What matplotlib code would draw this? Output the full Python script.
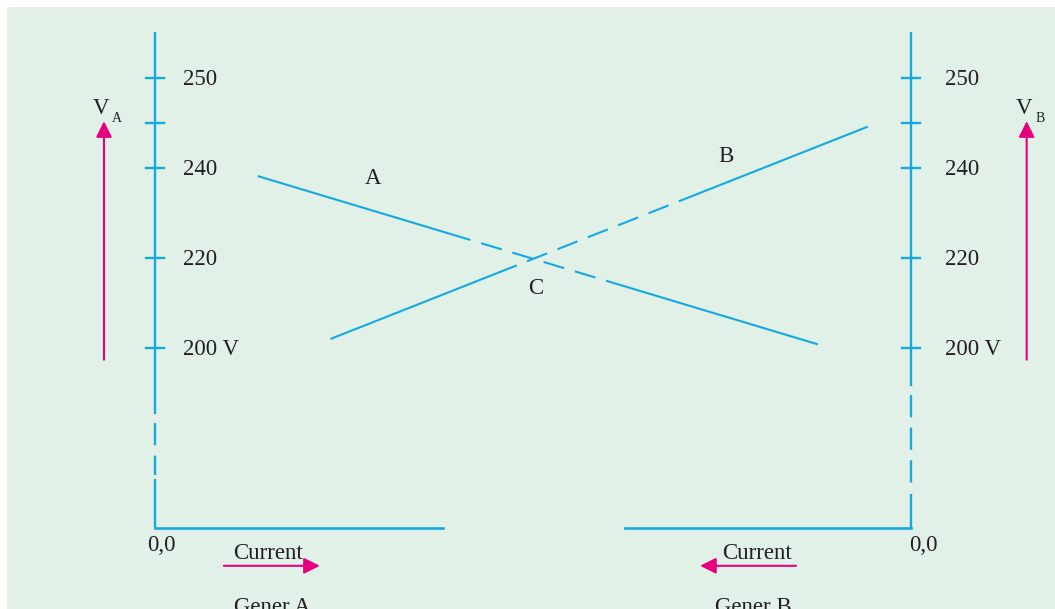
import matplotlib
matplotlib.use('Agg')
import matplotlib.pyplot as plt
from matplotlib.patches import Rectangle, FancyArrowPatch
import numpy as np

plt.rcParams['font.family'] = ['Liberation Serif', 'DejaVu Serif']
plt.rcParams['lines.scale_dashes'] = False

CYAN = '#14a9e0'
MAGENTA = '#e6007e'
BG = '#e1f1e7'
INK = '#231f20'
FS = 16.5

# voltage levels (schematic scale: one unit per tick step)
tick_pos = [0, 1, 2, 2.5, 3]
tick_labels = ['200 V', '220', '240', '', '250']

# generator characteristics (current units, voltage-level units)
gen_a_x = [1.36, 8.77]
gen_a_y = [1.91, 0.04]
gen_a_dash = [3.90, 6.05]

gen_b_x = [2.32, 9.43]
gen_b_y = [0.10, 2.46]
gen_b_dash = [4.52, 7.01]

left_axis_x = 0.0
right_axis_x = 10.0
axis_top = 3.51
axis_bottom = -2.0
left_base = [0.0, 3.81]
right_base = [6.22, 10.0]

fig = plt.figure(figsize=(10.55, 6.09), dpi=100)
fig.patch.set_facecolor('white')
fig.patches.append(Rectangle((7 / 1055, 0), 1, 1 - 7 / 609, transform=fig.transFigure,
                             facecolor=BG, edgecolor='none', zorder=-5))

ax = fig.add_axes([0, 0, 1, 1])
ax.set_xlim(-155 / 75.6, 900 / 75.6)
ax.set_ylim(-2.9, 348 / 90)
ax.axis('off')
ax.patch.set_alpha(0)


def char_line(xs, ys, dash_range):
    xa, xb = dash_range
    ya, yb = np.interp([xa, xb], xs, ys)
    ax.plot([xs[0], xa], [ys[0], ya], color=CYAN, lw=1.5, solid_capstyle='butt')
    ax.plot([xa, xb], [ya, yb], color=CYAN, lw=1.5, dashes=(15.5, 8), dash_capstyle='butt')
    ax.plot([xb, xs[1]], [yb, ys[1]], color=CYAN, lw=1.5, solid_capstyle='butt')


char_line(gen_a_x, gen_a_y, gen_a_dash)
char_line(gen_b_x, gen_b_y, gen_b_dash)

# vertical axes with a broken (dashed) lower part
axis_breaks = {left_axis_x: (-0.73, -1.46), right_axis_x: (-0.42, -1.62)}
for xv, (b1, b2) in axis_breaks.items():
    ax.plot([xv, xv], [axis_top, b1], color=CYAN, lw=1.7, solid_capstyle='butt')
    ax.plot([xv, xv], [b1 - 0.1, b2 + 0.05], color=CYAN, lw=1.7,
            dashes=(16, 7.5), dash_capstyle='butt')
    ax.plot([xv, xv], [b2, axis_bottom], color=CYAN, lw=1.7, solid_capstyle='butt')
    for tp in tick_pos:
        ax.plot([xv - 0.12, xv + 0.12], [tp, tp], color=CYAN, lw=1.7)

ax.plot(left_base, [axis_bottom, axis_bottom], color=CYAN, lw=1.9)
ax.plot(right_base, [axis_bottom, axis_bottom], color=CYAN, lw=1.9)

for tp, lab in zip(tick_pos, tick_labels):
    ax.text(left_axis_x + 0.37, tp - 0.02, lab, fontsize=FS, ha='left', va='center', color=INK)
    ax.text(right_axis_x + 0.45, tp - 0.02, lab, fontsize=FS, ha='left', va='center', color=INK)

ax.text(2.88, 1.88, 'A', fontsize=FS, ha='center', va='center', color=INK)
ax.text(7.55, 2.13, 'B', fontsize=FS, ha='center', va='center', color=INK)
ax.text(5.04, 0.66, 'C', fontsize=FS, ha='center', va='center', color=INK)

ax.text(0.08, -2.19, '0,0', fontsize=FS, ha='center', va='center', color=INK)
ax.text(10.17, -2.19, '0,0', fontsize=FS, ha='center', va='center', color=INK)

ax.text(1.49, -2.28, 'Current', fontsize=FS, ha='center', va='center', color=INK)
ax.text(7.96, -2.28, 'Current', fontsize=FS, ha='center', va='center', color=INK)
ax.text(1.55, -2.77, 'Gener A', fontsize=FS, ha='center', va='top', color=INK)
ax.text(7.92, -2.77, 'Gener B', fontsize=FS, ha='center', va='top', color=INK)


def arrow(p0, p1):
    ax.add_patch(FancyArrowPatch(p0, p1, arrowstyle='-|>,head_length=0.6,head_width=0.3',
                                 mutation_scale=16, color=MAGENTA, lw=1.5,
                                 shrinkA=0, shrinkB=0))


arrow((0.91, -2.42), (2.18, -2.42))
arrow((8.48, -2.42), (7.21, -2.42))
arrow((-0.675, -0.13), (-0.675, 2.52))
arrow((11.53, -0.13), (11.53, 2.52))

ax.text(-0.71, 2.66, 'V', fontsize=FS, ha='center', va='center', color=INK)
ax.text(-0.50, 2.55, 'A', fontsize=10, ha='center', va='center', color=INK)
ax.text(11.50, 2.66, 'V', fontsize=FS, ha='center', va='center', color=INK)
ax.text(11.71, 2.55, 'B', fontsize=10, ha='center', va='center', color=INK)

fig.savefig('out.png', dpi=100, facecolor=fig.get_facecolor())
